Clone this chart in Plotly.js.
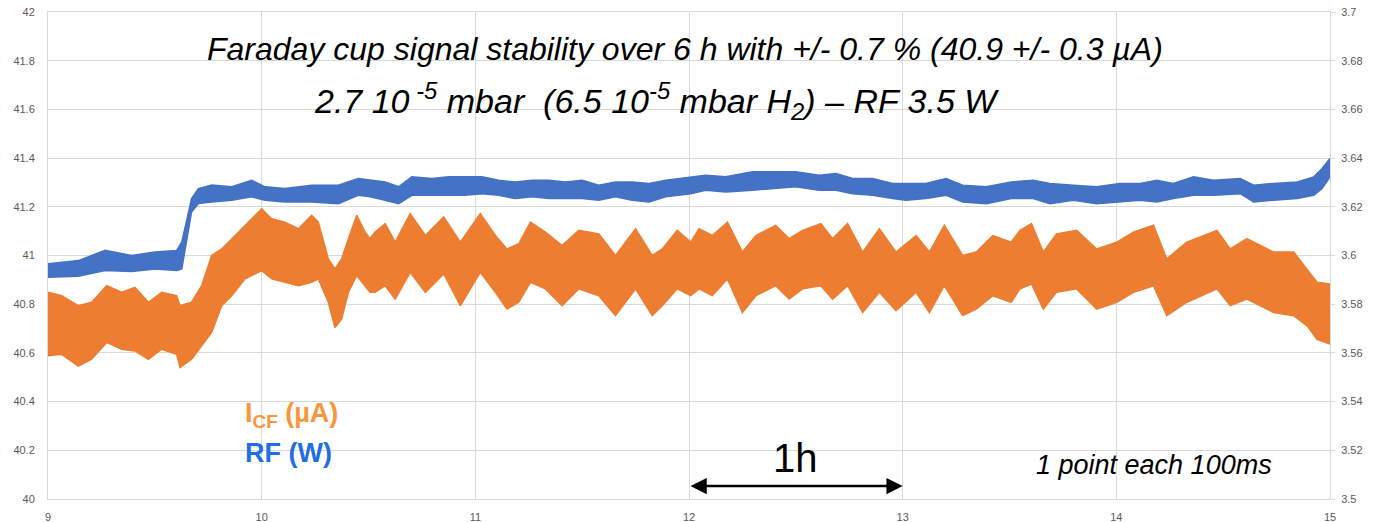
<!DOCTYPE html>
<html>
<head>
<meta charset="utf-8">
<script src="https://cdn.plot.ly/plotly-3.0.1.min.js"></script>
<style>
html,body{margin:0;padding:0;background:#fff;}
#chart{width:1380px;height:522px;}
</style>
</head>
<body>
<div id="chart"></div>
<script>
// ---- Faraday cup current I_CF (µA), left axis: envelope of the noisy band ----
const cfHours = [9.000,9.064,9.142,9.204,9.275,9.345,9.407,9.470,9.532,9.602,9.618,9.672,9.719,9.766,9.813,9.860,9.922,10.000,10.047,10.109,10.172,10.234,10.265,10.312,10.343,10.374,10.406,10.445,10.484,10.507,
  10.531,10.578,10.625,10.695,10.766,10.852,10.930,11.023,11.094,11.148,11.203,11.258,11.328,11.406,11.484,11.578,11.656,11.750,11.828,11.875,11.945,12.008,
  12.047,12.109,12.180,12.250,12.313,12.406,12.469,12.531,12.617,12.672,12.742,12.813,12.891,12.969,13.063,13.125,13.195,13.281,13.344,13.422,13.508,
  13.549,13.603,13.658,13.720,13.814,13.908,14.002,14.080,14.174,14.236,14.330,14.471,14.533,14.611,14.736,14.830,14.893,14.939,15.000];
const cfUpper = [40.849,40.835,40.794,40.808,40.876,40.849,40.869,40.808,40.849,40.835,40.794,40.808,40.876,41.000,41.027,41.069,41.124,41.192,41.151,41.137,41.110,41.165,41.137,40.986,40.945,40.986,41.069,41.165,41.096,41.069,
  41.096,41.131,41.055,41.172,41.082,41.158,41.055,41.172,41.082,41.027,41.048,41.137,41.096,41.041,41.103,41.089,41.000,41.110,41.000,41.027,41.103,41.055,
  41.110,41.082,41.137,41.014,41.082,41.124,41.069,41.103,41.131,41.069,41.131,41.014,41.110,41.014,41.082,41.014,41.124,41.000,41.014,41.082,41.055,
  41.103,41.131,41.014,41.089,41.103,41.027,41.055,41.096,41.124,40.986,41.055,41.103,41.027,41.069,41.014,41.014,40.945,40.890,40.883];
const cfLower = [40.588,40.594,40.546,40.574,40.643,40.615,40.608,40.574,40.615,40.594,40.540,40.574,40.629,40.684,40.794,40.835,40.904,40.938,40.904,40.890,40.876,40.890,40.904,40.808,40.704,40.739,40.849,40.918,40.876,40.849,
  40.849,40.876,40.821,40.931,40.849,40.924,40.794,40.931,40.849,40.780,40.808,40.890,40.863,40.794,40.863,40.835,40.753,40.863,40.753,40.794,40.863,40.835,
  40.863,40.835,40.904,40.766,40.835,40.876,40.821,40.863,40.876,40.821,40.876,40.766,40.849,40.773,40.849,40.766,40.876,40.753,40.780,40.835,40.808,
  40.863,40.883,40.780,40.849,40.863,40.780,40.808,40.849,40.876,40.753,40.808,40.863,40.794,40.821,40.766,40.753,40.711,40.656,40.636];

// ---- RF power (W), right axis: envelope of the noisy band ----
const rfHours = [9.000,9.142,9.267,9.392,9.501,9.602,9.626,9.649,9.672,9.704,9.766,9.860,9.953,10.016,10.109,10.234,10.359,10.452,10.507,
  10.578,10.641,10.703,10.797,10.875,10.953,11.031,11.109,11.188,11.266,11.344,11.422,11.500,11.578,11.656,11.734,11.813,11.891,12.008,
  12.078,12.172,12.297,12.391,12.500,12.609,12.688,12.766,12.859,12.953,13.016,13.109,13.203,13.281,13.391,13.508,
  13.611,13.689,13.799,13.908,14.017,14.111,14.189,14.267,14.361,14.455,14.580,14.643,14.736,14.846,14.924,14.963,15.000];
const rfUpper = [3.5966,3.5979,3.6021,3.6000,3.6014,3.6021,3.6055,3.6151,3.6234,3.6275,3.6289,3.6282,3.6309,3.6282,3.6275,3.6289,3.6289,3.6316,3.6309,
  3.6302,3.6282,3.6323,3.6316,3.6323,3.6323,3.6323,3.6309,3.6302,3.6309,3.6309,3.6302,3.6309,3.6289,3.6302,3.6302,3.6296,3.6309,3.6323,
  3.6330,3.6323,3.6344,3.6344,3.6344,3.6330,3.6337,3.6316,3.6316,3.6296,3.6296,3.6296,3.6316,3.6289,3.6282,3.6302,
  3.6309,3.6296,3.6289,3.6282,3.6296,3.6296,3.6309,3.6296,3.6323,3.6309,3.6316,3.6289,3.6296,3.6302,3.6323,3.6357,3.6399];
const rfLower = [3.5911,3.5915,3.5938,3.5934,3.5945,3.5938,3.5945,3.6069,3.6179,3.6213,3.6220,3.6227,3.6241,3.6227,3.6220,3.6220,3.6213,3.6247,3.6241,
  3.6227,3.6213,3.6247,3.6247,3.6247,3.6247,3.6254,3.6247,3.6234,3.6241,3.6234,3.6234,3.6234,3.6227,3.6241,3.6227,3.6220,3.6241,3.6254,
  3.6268,3.6261,3.6268,3.6275,3.6282,3.6268,3.6268,3.6254,3.6247,3.6234,3.6227,3.6234,3.6247,3.6220,3.6213,3.6234,
  3.6234,3.6213,3.6227,3.6213,3.6220,3.6227,3.6220,3.6234,3.6247,3.6247,3.6254,3.6220,3.6227,3.6234,3.6247,3.6275,3.6323];

// ---- axis ticks ----
const xTicks = [9,10,11,12,13,14,15];
const leftTicks = [40,40.2,40.4,40.6,40.8,41,41.2,41.4,41.6,41.8,42];
const rightTicks = [3.5,3.52,3.54,3.56,3.58,3.6,3.62,3.64,3.66,3.68,3.7];

const ORANGE = '#ED7D31', BLUE = '#4472C4';
const GRID = '#D9D9D9', TICKC = '#595959';

const traces = [
  {x: cfHours, y: cfLower, mode: 'lines', line: {color: ORANGE, width: 1.5}, hoverinfo: 'skip', showlegend: false},
  {x: cfHours, y: cfUpper, mode: 'lines', line: {color: ORANGE, width: 1.5}, fill: 'tonexty', fillcolor: ORANGE, hoverinfo: 'skip', showlegend: false},
  {x: rfHours, y: rfLower, yaxis: 'y2', mode: 'lines', line: {color: BLUE, width: 1.5}, hoverinfo: 'skip', showlegend: false},
  {x: rfHours, y: rfUpper, yaxis: 'y2', mode: 'lines', line: {color: BLUE, width: 1.5}, fill: 'tonexty', fillcolor: BLUE, hoverinfo: 'skip', showlegend: false}
];

const SANS = 'Liberation Sans, Arial, sans-serif';
const tickFont = {family: SANS, size: 11, color: TICKC};

const layout = {
  width: 1380, height: 522,
  margin: {l: 48, r: 50, t: 12, b: 23, pad: 0},
  paper_bgcolor: '#ffffff', plot_bgcolor: '#ffffff',
  showlegend: false,
  xaxis: {range: [9, 15], tickvals: xTicks, ticktext: xTicks.map(String), showgrid: true, gridcolor: GRID, gridwidth: 1,
          showline: true, linecolor: GRID, linewidth: 1, mirror: true, zeroline: false, ticks: '', tickfont: tickFont, ticklabelstandoff: 8},
  yaxis: {range: [40, 42], tickvals: leftTicks, ticktext: leftTicks.map(String), showgrid: true, gridcolor: GRID, gridwidth: 1,
          showline: true, linecolor: GRID, zeroline: false, ticks: '', tickfont: tickFont, ticklabelstandoff: 10},
  yaxis2: {range: [3.5, 3.7], tickvals: rightTicks, ticktext: rightTicks.map(String), overlaying: 'y', side: 'right', showgrid: false,
           showline: true, linecolor: GRID, zeroline: false, ticks: 'outside', ticklen: 4, tickcolor: GRID, tickfont: tickFont, ticklabelstandoff: 4},
  annotations: [
    {xref: 'paper', yref: 'paper', x: 0.4965, y: 0.924, xanchor: 'center', yanchor: 'middle', showarrow: false,
     text: 'Faraday cup signal stability over 6 h with +/- 0.7 % (40.9 +/- 0.3 µA)',
     font: {family: SANS, size: 32, color: '#000000', style: 'italic'}},
    {xref: 'paper', yref: 'paper', x: 0.475, y: 0.818, xanchor: 'center', yanchor: 'middle', showarrow: false,
     text: '2.7 10<sup> -5</sup> mbar  (6.5 10<sup>-5</sup> mbar H<sub>2</sub>) – RF 3.5 W',
     font: {family: SANS, size: 34, color: '#000000', style: 'italic'}},
    {xref: 'paper', yref: 'paper', x: 0.152, y: 0.1725, xanchor: 'left', yanchor: 'middle', showarrow: false,
     text: '<b>I<sub>CF</sub> (µA)</b>', font: {family: SANS, size: 27, color: '#F7963A'}},
    {xref: 'paper', yref: 'paper', x: 0.152, y: 0.094, xanchor: 'left', yanchor: 'middle', showarrow: false,
     text: '<b>RF (W)</b>', font: {family: SANS, size: 27, color: '#1F6FE0'}},
    {xref: 'x', yref: 'paper', x: 12.5, y: 0.084, xanchor: 'center', yanchor: 'middle', showarrow: false,
     text: '1h', font: {family: SANS, size: 40, color: '#000000'}},
    {xref: 'paper', yref: 'paper', x: 0.769, y: 0.07, xanchor: 'left', yanchor: 'middle', showarrow: false,
     text: '1 point each 100ms', font: {family: SANS, size: 27, color: '#000000', style: 'italic'}},
    {xref: 'x', yref: 'y', x: 13, y: 40.053, axref: 'x', ayref: 'y', ax: 12, ay: 40.053, text: '', showarrow: true,
     arrowside: 'end+start', arrowhead: 2, arrowsize: 1.3, arrowwidth: 2.5, arrowcolor: '#000000', standoff: 0, startstandoff: 0}
  ]
};

Plotly.newPlot('chart', traces, layout, {displayModeBar: false, staticPlot: true});
</script>
</body>
</html>
